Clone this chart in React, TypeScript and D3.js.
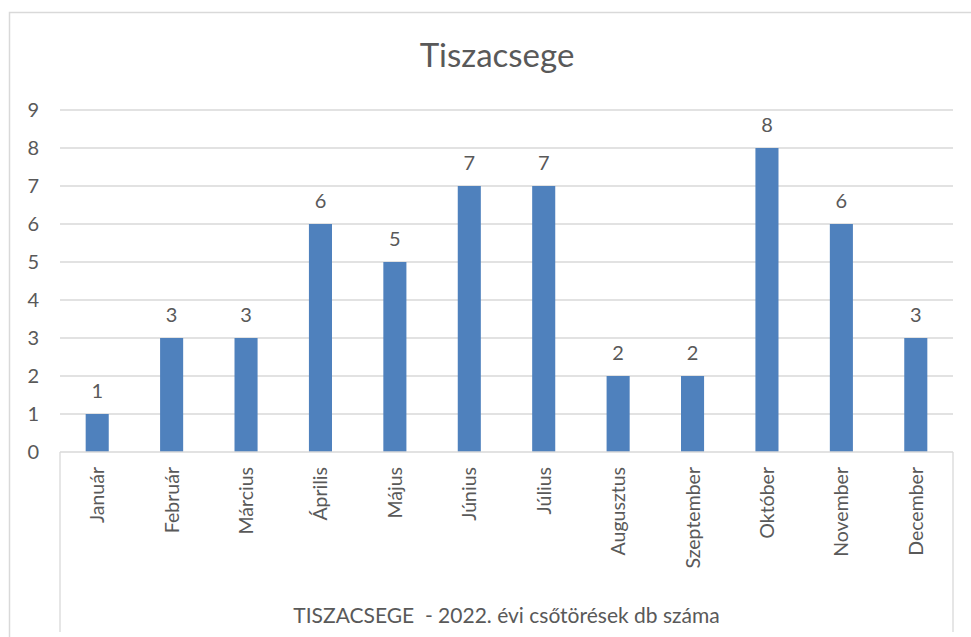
import React from "react";
import * as d3 from "d3";

const months = [
  "Január", "Február", "Március", "Április", "Május", "Június",
  "Július", "Augusztus", "Szeptember", "Október", "November", "December",
];
const breaks = [1, 3, 3, 6, 5, 7, 7, 2, 2, 8, 6, 3];
const yTicks = [0, 1, 2, 3, 4, 5, 6, 7, 8, 9];
const chartTitle = "Tiszacsege";
const axisTitle = "TISZACSEGE  - 2022. évi csőtörések db száma";

const W = 971;
const H = 637;
const font = "Lato, 'Open Sans', sans-serif";
const textColor = "#595959";
const gridColor = "#D9D9D9";

const App = () => {
  const plot = { left: 60, right: 953, top: 110, bottom: 452 };

  const x = d3
    .scaleBand()
    .domain(months)
    .range([plot.left, plot.right])
    .paddingInner(0.69)
    .paddingOuter(0.345);

  const y = d3.scaleLinear().domain([0, 9]).range([plot.bottom, plot.top]);

  return (
    <svg
      width={W}
      height={H}
      style={{ position: "fixed", top: 0, left: 0, background: "#fff" }}
      fontFamily={font}
    >
      {/* chart area border, runs off the right and bottom edges */}
      <rect x={9.5} y={12.5} width={W + 20} height={H + 20} fill="#fff" stroke={gridColor} strokeWidth={1.5} />

      <text x={497} y={67} textAnchor="middle" fontSize={33} fill={textColor}>
        {chartTitle}
      </text>

      {/* gridlines + y labels */}
      {yTicks.map((t) => (
        <g key={t}>
          {t > 0 && (
            <line x1={plot.left} x2={plot.right} y1={y(t)} y2={y(t)} stroke={gridColor} strokeWidth={1.3} />
          )}
          <text x={39} y={y(t)} dy="0.36em" textAnchor="end" fontSize={20} fill={textColor}>
            {t}
          </text>
        </g>
      ))}

      {/* bars */}
      {months.map((m, i) => (
        <rect
          key={m}
          x={x(m)}
          y={y(breaks[i])}
          width={x.bandwidth()}
          height={plot.bottom - y(breaks[i])}
          fill="#4F81BD"
        />
      ))}

      {/* data labels */}
      {months.map((m, i) => (
        <text
          key={m}
          x={x(m)! + x.bandwidth() / 2}
          y={y(breaks[i]) - 16}
          textAnchor="middle"
          fontSize={20}
          fill={textColor}
        >
          {breaks[i]}
        </text>
      ))}

      {/* category axis box */}
      <line x1={plot.left} x2={plot.right} y1={plot.bottom} y2={plot.bottom} stroke={gridColor} strokeWidth={1.3} />
      <line x1={plot.left} x2={plot.left} y1={plot.bottom} y2={632} stroke={gridColor} strokeWidth={1.3} />
      <line x1={plot.right} x2={plot.right} y1={plot.bottom} y2={632} stroke={gridColor} strokeWidth={1.3} />

      {months.map((m) => {
        const cx = x(m)! + x.bandwidth() / 2;
        return (
          <text
            key={m}
            transform={`translate(${cx + 7},467) rotate(-90)`}
            textAnchor="end"
            fontSize={19.5}
            fill={textColor}
          >
            {m}
          </text>
        );
      })}

      <text
        x={(plot.left + plot.right) / 2}
        y={623}
        textAnchor="middle"
        fontSize={21}
        fill={textColor}
        style={{ whiteSpace: "pre" }}
      >
        {axisTitle}
      </text>
    </svg>
  );
};

export default App;
